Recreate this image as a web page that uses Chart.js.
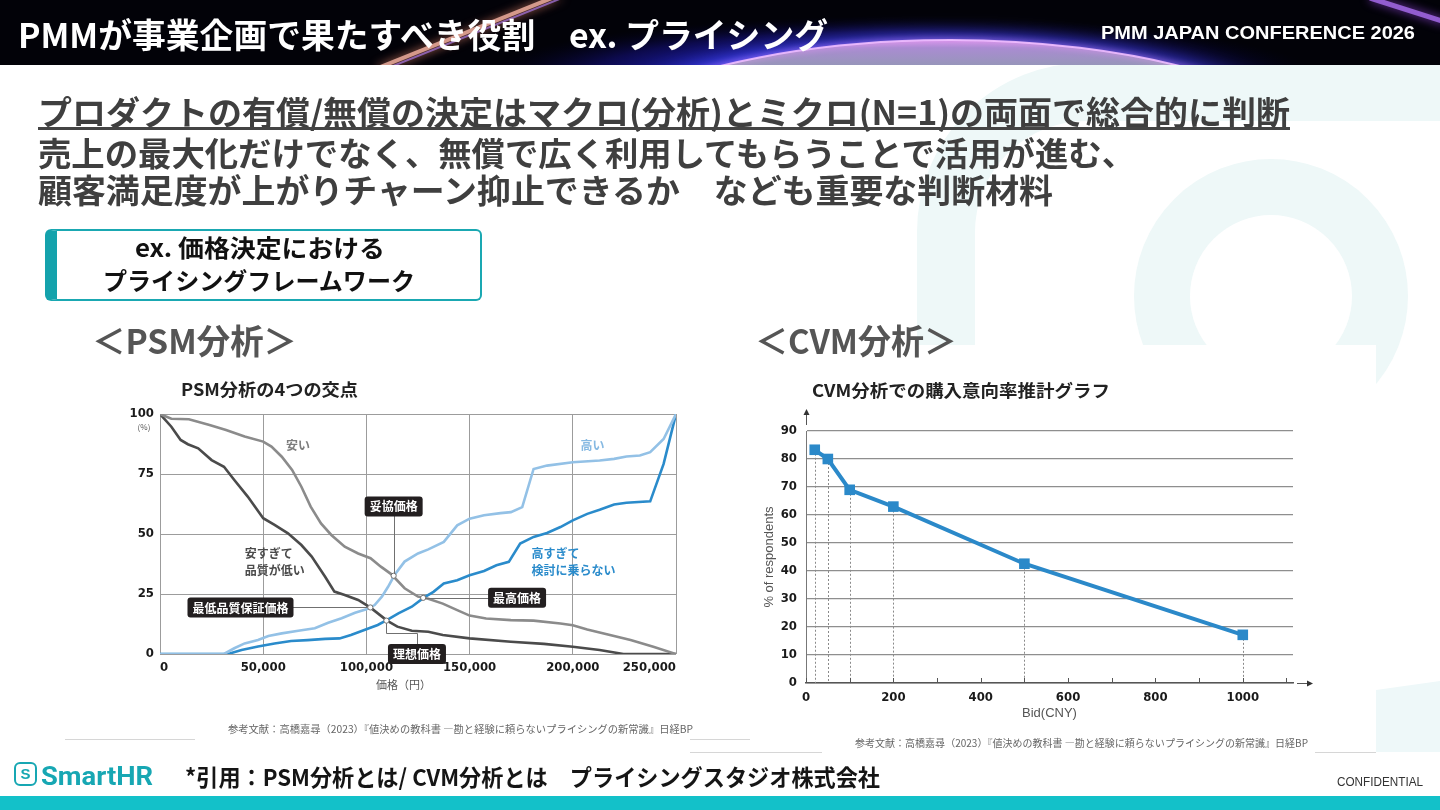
<!DOCTYPE html>
<html lang="ja">
<head>
<meta charset="utf-8">
<title>PMMが事業企画で果たすべき役割 ex. プライシング</title>
<script src="https://cdn.jsdelivr.net/npm/chart.js@4.4.1/dist/chart.umd.min.js"></script>
<style>
  html, body { margin: 0; padding: 0; }
  body { width: 1440px; height: 810px; position: relative; overflow: hidden; background: #fff;
         font-family: "Noto Sans CJK JP", "Noto Sans", sans-serif; }
  canvas { position: absolute; }
  #bg { left: 0; top: 0; }
  #psm { left: 120px; top: 400px; }
  #cvm { left: 745px; top: 400px; }
  .t { position: absolute; white-space: nowrap; line-height: 1; transform-origin: 0 50%; }
  .box { position: absolute; left: 45px; top: 229px; width: 423px; height: 68px;
         border: 2px solid #1aa8b2; border-left: 12px solid #14a2ac; border-radius: 6px; background: #fff; }
  .uline { position: absolute; left: 38px; top: 127px; width: 1252px; height: 3px; background: #444; }
  .logo { position: absolute; left: 14px; top: 762px; width: 19px; height: 20px; border: 2.5px solid #17a7b3;
          border-radius: 6px; color: #17a7b3; font: 700 15px "Liberation Sans", sans-serif; text-align: center; line-height: 20px; }
</style>
</head>
<body>
<canvas id="bg" width="1440" height="810"></canvas>

<div class="t" data-w="810" style="left:18px;top:17px;font-size:34px;font-weight:700;color:#fff">PMMが事業企画で果たすべき役割　ex. プライシング</div>
<div class="t" data-w="314" style="left:1101px;top:23px;font:700 18px 'Liberation Sans',sans-serif;color:#fff">PMM JAPAN CONFERENCE 2026</div>

<div class="t" data-w="1252" style="left:38px;top:95px;font-size:33px;font-weight:700;color:#3f3f3f">プロダクトの有償/無償の決定はマクロ(分析)とミクロ(N=1)の両面で総合的に判断</div>
<div class="uline"></div>
<div class="t" data-w="1097" style="left:38px;top:136px;font-size:33px;font-weight:700;color:#3f3f3f">売上の最大化だけでなく、無償で広く利用してもらうことで活用が進む、</div>
<div class="t" data-w="1015" style="left:38px;top:173px;font-size:33px;font-weight:700;color:#3f3f3f">顧客満足度が上がりチャーン抑止できるか　なども重要な判断材料</div>

<div class="box"></div>
<div class="t" data-w="250" style="left:135px;top:235px;font-size:24px;font-weight:700;color:#111">ex. 価格決定における</div>
<div class="t" data-w="312" style="left:103px;top:268px;font-size:24px;font-weight:700;color:#111">プライシングフレームワーク</div>

<div class="t" data-w="205" style="left:92px;top:323px;font-size:34px;font-weight:700;color:#555">＜PSM分析＞</div>
<div class="t" data-w="202" style="left:755px;top:323px;font-size:34px;font-weight:700;color:#555">＜CVM分析＞</div>

<div class="t" data-w="177" style="left:181px;top:380px;font-size:17px;font-weight:700;color:#222">PSM分析の4つの交点</div>
<div class="t" data-w="298" style="left:812px;top:381px;font-size:17px;font-weight:700;color:#222">CVM分析での購入意向率推計グラフ</div>

<canvas id="psm" width="580" height="300"></canvas>
<canvas id="cvm" width="600" height="330"></canvas>

<div class="t" data-w="465" style="left:228px;top:724px;font-size:10px;color:#666">参考文献：高橋嘉尋（2023）『値決めの教科書 ―勘と経験に頼らないプライシングの新常識』日経BP</div>
<div class="t" data-w="453" style="left:855px;top:738px;font-size:10px;color:#666">参考文献：高橋嘉尋（2023）『値決めの教科書 ―勘と経験に頼らないプライシングの新常識』日経BP</div>

<div class="logo">S</div>
<div class="t" data-w="112" style="left:41px;top:761px;font:700 26px 'Roboto','Liberation Sans',sans-serif;color:#17a7b3">SmartHR</div>
<div class="t" data-w="695" style="left:185px;top:765px;font-size:23px;font-weight:700;color:#151515">*引用：PSM分析とは/ CVM分析とは　プライシングスタジオ株式会社</div>
<div class="t" data-w="86" style="left:1337px;top:775px;font:12px 'Liberation Sans',sans-serif;color:#333">CONFIDENTIAL</div>

<script>
// ---- PSM (price sensitivity meter) curves: price in yen, share in % ----
const cheapX = [0, 5500, 14000, 24000, 32000, 41000, 50000, 54000, 59000, 64000, 68500, 73000, 78000, 83000, 89500, 96000, 102000, 107000, 112000, 118500, 125000, 130000, 137000, 144000, 150000, 158000, 170000, 181000, 194000, 200000, 207000, 218000, 228000, 239000, 250000];
const cheapY = [100, 98, 97.8, 95.4, 93.3, 90.6, 88.5, 86.4, 82.2, 76.7, 69.7, 61.4, 54.4, 49.6, 44.7, 41.9, 39.9, 36.4, 33.3, 27.4, 23.9, 23, 21, 18.3, 16, 14.8, 14.1, 13.9, 12.7, 12, 10.2, 7.9, 5.8, 3, 0];

const tooCheapX = [0, 5500, 10000, 13500, 18500, 25000, 31000, 36000, 42500, 50000, 55500, 62000, 68500, 73500, 80000, 84500, 89500, 96000, 102000, 110000, 115000, 122000, 130000, 137000, 150000, 170000, 186000, 200000, 213000, 224500, 250000];
const tooCheapY = [100, 94.7, 89.2, 87.4, 85.7, 80.8, 78, 72.5, 65.6, 56.6, 53.8, 50.3, 45.4, 40.6, 32.2, 26, 24.6, 22.5, 19.3, 13.9, 11.4, 9.7, 9.3, 7.9, 6.5, 5.1, 4.2, 3, 1.7, 0, 0];

const expensiveX = [0, 31000, 36000, 41000, 47500, 52500, 59000, 67000, 75000, 81500, 88000, 94500, 100000, 104000, 107500, 110500, 113700, 118500, 125000, 130000, 137500, 144000, 150000, 157000, 165000, 170000, 175500, 181000, 187500, 200000, 213000, 220000, 226000, 232500, 237500, 244000, 250000];
const expensiveY = [0, 0, 2.4, 4.4, 5.8, 7.5, 8.6, 9.7, 10.7, 13, 14.9, 17.2, 18.6, 20.4, 23.9, 28, 33, 38.5, 41.9, 43.6, 46.7, 53.6, 56.4, 57.8, 58.7, 59.1, 61.2, 77.1, 78.5, 79.9, 80.6, 81.3, 82.3, 82.7, 84.1, 89.6, 100];

const tooExpX = [0, 33000, 39500, 47500, 55500, 63500, 71500, 80000, 87000, 92500, 99000, 105500, 110500, 115500, 122000, 128000, 132500, 137500, 144000, 150000, 157000, 163000, 169000, 174500, 181000, 187500, 194000, 200000, 207000, 213000, 220000, 226000, 237500, 244000, 250000];
const tooExpY = [0, 0, 1.7, 3.1, 4.4, 5.4, 5.8, 6.3, 6.5, 7.9, 10, 12.1, 14.4, 16.9, 19.7, 23.6, 25.9, 29.4, 30.7, 32.8, 34.6, 37, 38.4, 46, 48.8, 50.4, 52.9, 55.7, 58.4, 60.1, 62.3, 63, 63.6, 79.2, 100];

const psmXTicks = [0, 50000, 100000, 150000, 200000, 250000];
const psmYTicks = [0, 25, 50, 75, 100];

const curveNames = ['安い', '安すぎて\n品質が低い', '高い', '高すぎて\n検討に乗らない'];
const curveNameX = [66800, 41100, 209500, 180000];
const curveNameY = [86.7, 42.1, 86.7, 42.1];

// the four crossing points and where their call-outs sit
const markNames = ['最低品質保証価格', '理想価格', '妥協価格', '最高価格'];
const markX = [101900, 109700, 113200, 127500];
const markY = [19.4, 13.9, 32.6, 23.4];
const labelX = [39000, 124500, 113200, 173000];
const labelY = [19.4, 0, 61.5, 23.4];
const elbowY = [19.4, 8.7, 61.5, 23.4];

// ---- CVM purchase intention ----
const cvmBid = [20, 50, 100, 200, 500, 1000];
const cvmPct = [83.3, 80, 69, 63, 42.6, 17.2];
const cvmXTicks = [0, 100, 200, 300, 400, 500, 600, 700, 800, 900, 1000, 1100];
const cvmXLabels = [0, 200, 400, 600, 800, 1000];
const cvmYTicks = [0, 10, 20, 30, 40, 50, 60, 70, 80, 90];

const jp = '"Noto Sans CJK JP", "Noto Sans", sans-serif';
const narrow = '"Liberation Sans Narrow", "DejaVu Sans Condensed", "Liberation Sans", sans-serif';

// fit the slide texts to the widths measured on the reference
document.querySelectorAll('.t').forEach(el => {
  const w = parseFloat(el.dataset.w);
  const nat = el.getBoundingClientRect().width;
  if (nat > 0) el.style.transform = 'scaleX(' + (w / nat) + ')';
});

// ---- background: header, watermark, footer ----
const bg = document.getElementById('bg').getContext('2d');
bg.fillStyle = '#fff';
bg.fillRect(0, 0, 1440, 810);

bg.strokeStyle = '#eef8f8';
bg.lineWidth = 58;
bg.beginPath();
bg.moveTo(946, 420);
bg.lineTo(946, 230);
bg.arcTo(946, 92, 1090, 92, 140);
bg.lineTo(1460, 92);
bg.stroke();
bg.lineWidth = 56;
bg.beginPath();
bg.arc(1271, 296, 109, 0, Math.PI * 2);
bg.stroke();
bg.fillStyle = '#eef8f9';
bg.beginPath();
bg.moveTo(1376, 690); bg.lineTo(1440, 681); bg.lineTo(1440, 752); bg.lineTo(1376, 752);
bg.fill();

bg.fillStyle = '#fff';
bg.fillRect(745, 345, 631, 407);

bg.strokeStyle = '#d6d6d6';
bg.lineWidth = 1;
[[65, 195, 739.5], [690, 750, 739.5], [690, 822, 752.5], [1315, 1376, 752.5]].forEach(([a, b, yy]) => {
  bg.beginPath(); bg.moveTo(a, yy); bg.lineTo(b, yy); bg.stroke();
});

// header: dark band with a glowing planet rim and a light streak
bg.fillStyle = '#020208';
bg.fillRect(0, 0, 1440, 65);
bg.save();
bg.beginPath(); bg.rect(0, 0, 1440, 65); bg.clip();
bg.save();
bg.translate(900, 78); bg.scale(420, 62);
let glow = bg.createRadialGradient(0, 0, 0, 0, 0, 1);
glow.addColorStop(0, 'rgba(70,80,255,1)');
glow.addColorStop(0.45, 'rgba(40,45,235,0.85)');
glow.addColorStop(0.75, 'rgba(25,20,160,0.45)');
glow.addColorStop(1, 'rgba(0,0,40,0)');
bg.fillStyle = glow;
bg.beginPath(); bg.arc(0, 0, 1, 0, Math.PI * 2); bg.fill();
bg.restore();

let planet = bg.createLinearGradient(0, 38, 0, 66);
planet.addColorStop(0, 'rgba(215,150,235,1)');
planet.addColorStop(0.35, 'rgba(170,140,210,1)');
planet.addColorStop(1, 'rgba(150,150,185,1)');
bg.shadowColor = 'rgba(90,90,255,1)';
bg.shadowBlur = 22;
bg.fillStyle = planet;
bg.beginPath(); bg.ellipse(950, 200, 420, 160, 0, 0, Math.PI * 2); bg.fill();
bg.shadowBlur = 6;
bg.shadowColor = 'rgba(255,160,255,0.9)';
bg.strokeStyle = 'rgba(240,190,255,0.9)';
bg.lineWidth = 2;
bg.beginPath(); bg.ellipse(950, 200, 420, 160, 0, Math.PI * 1.1, Math.PI * 1.9); bg.stroke();

bg.shadowBlur = 10;
bg.shadowColor = 'rgba(255,150,120,0.9)';
bg.strokeStyle = 'rgba(235,175,160,0.85)';
bg.lineWidth = 4;
bg.beginPath(); bg.moveTo(378, 68); bg.lineTo(552, -2); bg.stroke();
bg.strokeStyle = 'rgba(170,120,230,0.7)';
bg.lineWidth = 2;
bg.beginPath(); bg.moveTo(388, 68); bg.lineTo(562, -2); bg.stroke();
bg.shadowColor = 'rgba(170,80,255,0.9)';
bg.strokeStyle = 'rgba(170,110,240,0.8)';
bg.lineWidth = 5;
bg.beginPath(); bg.moveTo(1370, -2); bg.lineTo(1445, 22); bg.stroke();
bg.restore();

// footer band
bg.fillStyle = '#13c1c9';
bg.fillRect(0, 796, 1440, 14);

// ---- charts ----
Chart.defaults.font.family = jp;
const pts = (xs, ys) => xs.map((v, i) => ({ x: v, y: ys[i] }));
const lineSet = (label, xs, ys, color) => ({
  label, data: pts(xs, ys), borderColor: color, borderWidth: 2.6,
  pointRadius: 0, tension: 0, fill: false
});
const curveColors = ['#8b8b8b', '#4b4b4b', '#93c1e6', '#2a8bcb'];
const curveTextColors = ['#7d7d7d', '#4b4b4b', '#86b9e2', '#2a8bcb'];
const curveAlign = ['center', 'left', 'center', 'left'];

const psmNotes = {
  id: 'psmNotes',
  afterDatasetsDraw(chart) {
    const { ctx, scales: { x, y } } = chart;
    const px = v => Math.round(x.getPixelForValue(v)) + 0.5;
    const py = v => Math.round(y.getPixelForValue(v)) + 0.5;
    ctx.save();
    ctx.textBaseline = 'middle';
    ctx.font = 'bold 12px ' + jp;
    curveNames.forEach((name, i) => {
      ctx.fillStyle = curveTextColors[i];
      ctx.textAlign = curveAlign[i];
      name.split('\n').forEach((line, j) => {
        ctx.fillText(line, x.getPixelForValue(curveNameX[i]), y.getPixelForValue(curveNameY[i]) + j * 17);
      });
    });

    ctx.strokeStyle = '#707070';
    ctx.lineWidth = 1;
    markNames.forEach((_, i) => {
      ctx.beginPath();
      ctx.moveTo(px(markX[i]), py(markY[i]));
      ctx.lineTo(px(markX[i]), py(elbowY[i]));
      ctx.lineTo(px(labelX[i]), py(elbowY[i]));
      ctx.lineTo(px(labelX[i]), py(labelY[i]));
      ctx.stroke();
    });
    markNames.forEach((_, i) => {
      ctx.beginPath();
      ctx.arc(x.getPixelForValue(markX[i]), y.getPixelForValue(markY[i]), 2.6, 0, Math.PI * 2);
      ctx.fillStyle = '#fff';
      ctx.fill();
      ctx.stroke();
    });

    ctx.font = 'bold 12px ' + jp;
    ctx.textAlign = 'center';
    markNames.forEach((name, i) => {
      const w = ctx.measureText(name).width + 10;
      const cx = x.getPixelForValue(labelX[i]);
      const cy = y.getPixelForValue(labelY[i]);
      ctx.fillStyle = '#231f20';
      ctx.beginPath();
      ctx.roundRect(cx - w / 2, cy - 10, w, 20, 3);
      ctx.fill();
      ctx.fillStyle = '#fff';
      ctx.fillText(name, cx, cy + 0.5);
    });

    ctx.fillStyle = '#555';
    ctx.font = '8px ' + jp;
    ctx.fillText('(%)', chart.chartArea.left - 16, y.getPixelForValue(100) + 13);
    ctx.font = '11px ' + jp;
    ctx.fillText('価格（円）', x.getPixelForValue(118000), chart.chartArea.bottom + 31);
    ctx.restore();
  }
};

new Chart(document.getElementById('psm'), {
  type: 'line',
  data: {
    datasets: [
      lineSet('安い', cheapX, cheapY, curveColors[0]),
      lineSet('安すぎて品質が低い', tooCheapX, tooCheapY, curveColors[1]),
      lineSet('高い', expensiveX, expensiveY, curveColors[2]),
      lineSet('高すぎて検討に乗らない', tooExpX, tooExpY, curveColors[3])
    ]
  },
  options: {
    responsive: false,
    animation: false,
    layout: { padding: { left: 10, right: 24, top: 14, bottom: 6 } },
    plugins: { legend: { display: false }, tooltip: { enabled: false } },
    scales: {
      x: {
        type: 'linear', min: 0, max: 250000,
        afterBuildTicks: s => { s.ticks = psmXTicks.map(v => ({ value: v })); },
        afterFit: s => { s.height = 40; },
        grid: { color: '#9c9c9c', lineWidth: 1, drawTicks: false },
        border: { display: false },
        ticks: {
          align: 'inner', padding: 6, color: '#1a1a1a',
          font: { family: narrow, size: 13, weight: 'bold' },
          callback: v => v.toLocaleString('en-US')
        }
      },
      y: {
        min: 0, max: 100,
        afterBuildTicks: s => { s.ticks = psmYTicks.map(v => ({ value: v })); },
        afterFit: s => { s.width = 30; },
        grid: { color: '#9c9c9c', lineWidth: 1, drawTicks: false },
        border: { display: false },
        ticks: { padding: 6, color: '#1a1a1a', font: { family: narrow, size: 13, weight: 'bold' } }
      }
    }
  },
  plugins: [psmNotes]
});

const cvmGuides = {
  id: 'cvmGuides',
  beforeDatasetsDraw(chart) {
    const { ctx, scales: { x, y } } = chart;
    ctx.save();
    ctx.strokeStyle = '#8a8a8a';
    ctx.lineWidth = 1;
    ctx.setLineDash([2, 2]);
    cvmBid.forEach((b, i) => {
      const xx = Math.round(x.getPixelForValue(b)) + 0.5;
      ctx.beginPath();
      ctx.moveTo(xx, y.getPixelForValue(cvmPct[i]));
      ctx.lineTo(xx, y.getPixelForValue(0));
      ctx.stroke();
    });
    ctx.restore();
  },
  afterDraw(chart) {
    const { ctx, chartArea, scales: { x, y } } = chart;
    const y0 = y.getPixelForValue(0);
    ctx.save();
    ctx.strokeStyle = '#555';
    ctx.fillStyle = '#333';
    ctx.lineWidth = 1;
    cvmXTicks.forEach(v => {
      const xx = Math.round(x.getPixelForValue(v)) + 0.5;
      ctx.beginPath(); ctx.moveTo(xx, y0); ctx.lineTo(xx, y0 - 5); ctx.stroke();
    });
    // axis arrows
    const ax = Math.round(chartArea.left) + 0.5;
    ctx.beginPath(); ctx.moveTo(ax, chartArea.top - 6); ctx.lineTo(ax, chartArea.top - 20); ctx.stroke();
    ctx.beginPath(); ctx.moveTo(ax - 3, chartArea.top - 16); ctx.lineTo(ax, chartArea.top - 22); ctx.lineTo(ax + 3, chartArea.top - 16); ctx.fill();
    const ay = Math.round(y0) + 0.5;
    ctx.beginPath(); ctx.moveTo(chartArea.right + 4, ay); ctx.lineTo(chartArea.right + 16, ay); ctx.stroke();
    ctx.beginPath(); ctx.moveTo(chartArea.right + 14, ay - 3); ctx.lineTo(chartArea.right + 20, ay); ctx.lineTo(chartArea.right + 14, ay + 3); ctx.fill();
    ctx.restore();
  }
};

new Chart(document.getElementById('cvm'), {
  type: 'line',
  data: {
    datasets: [{
      label: '購入意向率',
      data: pts(cvmBid, cvmPct),
      borderColor: '#2b89c9',
      backgroundColor: '#2b89c9',
      borderWidth: 4,
      pointStyle: 'rect',
      pointRadius: 7.5,
      pointBorderWidth: 0,
      tension: 0
    }]
  },
  options: {
    responsive: false,
    animation: false,
    layout: { padding: { left: 10, right: 52, top: 31, bottom: 9 } },
    plugins: { legend: { display: false }, tooltip: { enabled: false } },
    scales: {
      x: {
        type: 'linear', min: 0, max: 1115,
        afterBuildTicks: s => { s.ticks = cvmXTicks.map(v => ({ value: v })); },
        afterFit: s => { s.height = 38; },
        grid: { display: false, drawTicks: false },
        border: { display: true, color: '#555', width: 1.5 },
        ticks: {
          padding: 7, color: '#1a1a1a', maxRotation: 0, autoSkip: false,
          font: { family: narrow, size: 13, weight: 'bold' },
          callback: v => cvmXLabels.includes(v) ? String(v) : ''
        },
        title: {
          display: true, text: 'Bid(CNY)', color: '#555',
          font: { family: '"Liberation Sans", sans-serif', size: 13 },
          padding: { top: 0, bottom: 0 }
        }
      },
      y: {
        min: 0, max: 90,
        afterBuildTicks: s => { s.ticks = cvmYTicks.map(v => ({ value: v })); },
        afterFit: s => { s.width = 51; },
        grid: { color: '#8e8e8e', lineWidth: 1.2, drawTicks: false },
        border: { display: true, color: '#777', width: 1 },
        ticks: { padding: 9, color: '#1a1a1a', font: { family: narrow, size: 13, weight: 'bold' } },
        title: {
          display: true, text: '% of respondents', color: '#555',
          font: { family: '"Liberation Sans", sans-serif', size: 13 },
          padding: { top: 7, bottom: 0 }
        }
      }
    }
  },
  plugins: [cvmGuides]
});
</script>
</body>
</html>
